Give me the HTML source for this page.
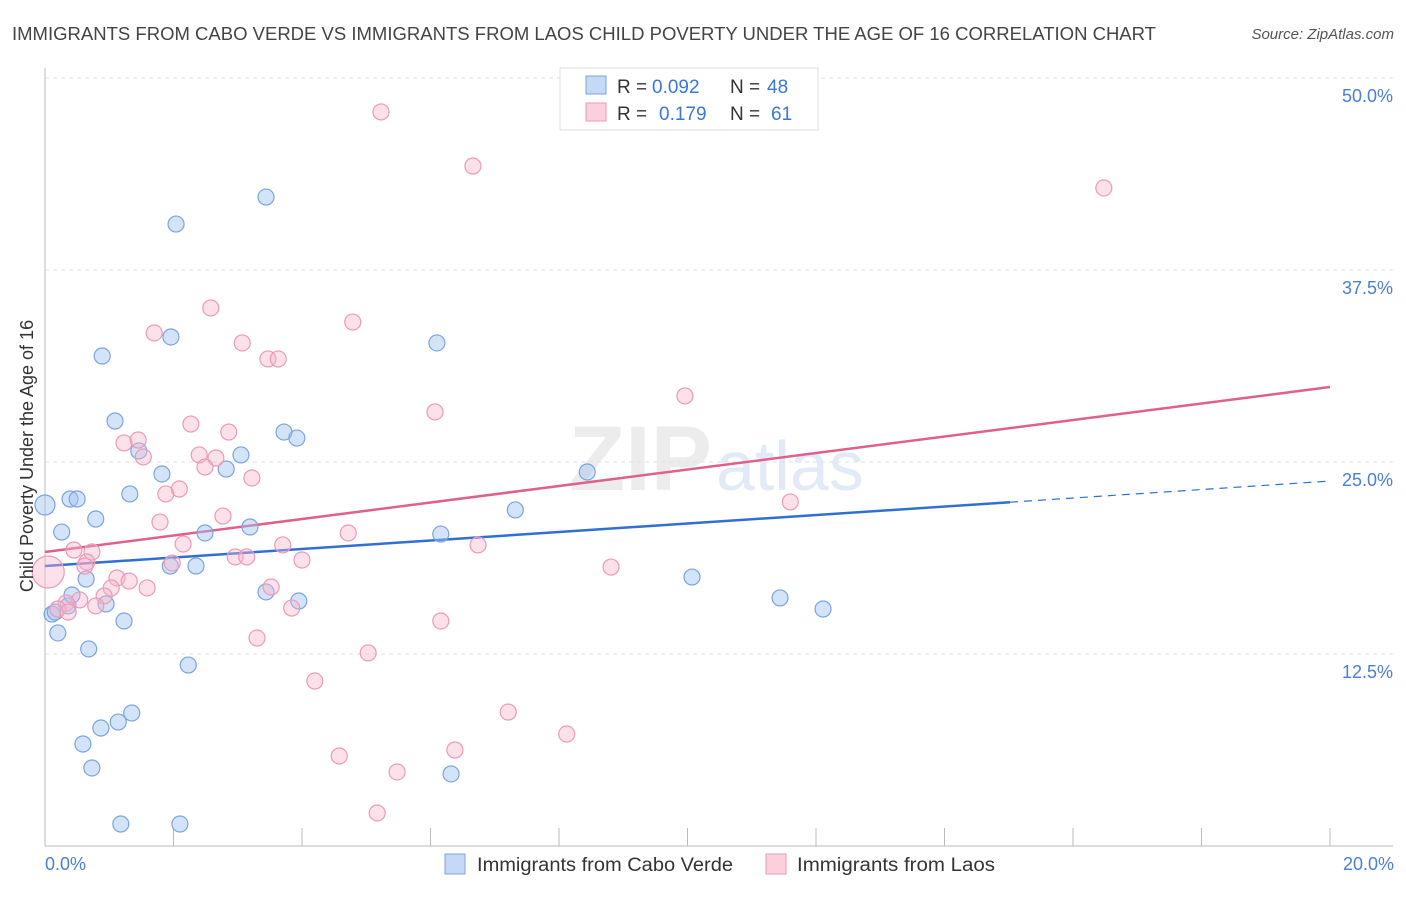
<!DOCTYPE html>
<html><head><meta charset="utf-8"><style>
body{margin:0;background:#fff;font-family:"Liberation Sans",sans-serif;}
svg text{font-family:"Liberation Sans",sans-serif;}
</style></head><body>
<svg id="chart" width="1406" height="892">
<text x="12" y="40" font-size="18" fill="#444" textLength="1144" lengthAdjust="spacingAndGlyphs">IMMIGRANTS FROM CABO VERDE VS IMMIGRANTS FROM LAOS CHILD POVERTY UNDER THE AGE OF 16 CORRELATION CHART</text>
<text x="1394" y="39" font-size="15" fill="#555" font-style="italic" text-anchor="end">Source: ZipAtlas.com</text>
<text x="712" y="490" font-size="92" font-weight="bold" fill="#ececec" text-anchor="end">ZIP</text>
<text x="716" y="490" font-size="70" fill="#e1eaf6">atlas</text>
<g id="grid"></g><g id="axes"></g><g id="lines"></g><g id="pts"></g>
<text transform="translate(33,456) rotate(-90)" font-size="18" fill="#333" text-anchor="middle">Child Poverty Under the Age of 16</text>
<text x="45" y="870" font-size="18" fill="#4a7fd4">0.0%</text>
<text x="1394" y="870" font-size="18" fill="#4a7fd4" text-anchor="end">20.0%</text>
<g>
<rect x="560" y="68" width="258" height="62" fill="#fff" stroke="#ddd"/>
<rect x="586" y="76" width="20" height="18" fill="#c5d9f5" stroke="#7aa4e0"/>
<rect x="586" y="103" width="20" height="18" fill="#fbcfdc" stroke="#ec9ab4"/>
<text x="617" y="93" font-size="19" fill="#333">R =</text>
<text x="652" y="93" font-size="19" fill="#3a78d8">0.092</text>
<text x="730" y="93" font-size="19" fill="#333">N =</text>
<text x="767" y="93" font-size="19" fill="#3a78d8">48</text>
<text x="617" y="120" font-size="19" fill="#333">R =</text>
<text x="659" y="120" font-size="19" fill="#3a78d8">0.179</text>
<text x="730" y="120" font-size="19" fill="#333">N =</text>
<text x="771" y="120" font-size="19" fill="#3a78d8">61</text>
</g>
<g>
<rect x="445" y="854" width="20" height="20" fill="#c5d9f5" stroke="#7aa4e0"/>
<text x="477" y="871" font-size="19" fill="#333" textLength="256" lengthAdjust="spacingAndGlyphs">Immigrants from Cabo Verde</text>
<rect x="766" y="854" width="20" height="20" fill="#fbcfdc" stroke="#ec9ab4"/>
<text x="797" y="871" font-size="19" fill="#333" textLength="198" lengthAdjust="spacingAndGlyphs">Immigrants from Laos</text>
</g>
</svg>
<script>
const yTicks=[12.5,25,37.5,50];
const yTickLabels=["12.5%","25.0%","37.5%","50.0%"];
const xTicks=[0,2,4,6,8,10,12,14,16,18,20];
const bluePx=[[45,505],[62,532],[70,499],[77,499],[96,519],[102,356],[115,421],[130,494],[139,451],[162,474],[170,566],[171,337],[176,224],[196,566],[205,533],[226,469],[241,455],[250,527],[266,197],[266,592],[284,432],[297,438],[299,601],[437,343],[441,534],[451,774],[515,510],[587,472],[692,577],[780,598],[823,609],[52,614],[58,633],[68,606],[72,595],[86,579],[89,649],[106,604],[124,621],[188,665],[132,713],[118,722],[101,728],[83,744],[92,768],[121,824],[180,824],[55,612]];
const pinkPx=[[48,572],[381,112],[473,166],[1104,188],[211,308],[154,333],[353,322],[242,343],[268,359],[278,359],[685,396],[435,412],[191,424],[124,443],[138,440],[143,457],[229,432],[199,455],[216,458],[205,467],[179,489],[166,494],[252,478],[160,522],[223,516],[790,502],[348,533],[74,550],[92,552],[183,544],[283,545],[478,545],[235,557],[247,557],[302,560],[611,567],[172,563],[87,562],[117,578],[129,581],[111,588],[147,588],[271,587],[104,596],[80,600],[66,603],[58,609],[68,612],[96,606],[292,608],[441,621],[257,638],[368,653],[315,681],[508,712],[567,734],[455,750],[339,756],[397,772],[377,813],[85,566]];
const blueX=bluePx.map(p=>+((p[0]-45)/64.25).toFixed(2));
const blueY=bluePx.map(p=>+((846-p[1])/15.36).toFixed(2));
const pinkX=pinkPx.map(p=>+((p[0]-45)/64.25).toFixed(2));
const pinkY=pinkPx.map(p=>+((846-p[1])/15.36).toFixed(2));
const blueTrend=[18.23,23.76];
const pinkTrend=[19.14,29.88];
const NS="http://www.w3.org/2000/svg";
const sx=v=>45+v*64.25, sy=v=>846-v*15.36;
function mk(parent,tag,attrs){const e=document.createElementNS(NS,tag);for(const k in attrs)e.setAttribute(k,attrs[k]);document.getElementById(parent).appendChild(e);return e;}
yTicks.forEach((t,i)=>{
 const g=mk('grid','line',{x1:45,x2:1393,y1:sy(t),y2:sy(t),stroke:'#e2e2e2','stroke-dasharray':'4,4'});
 
 
 const tx=mk('grid','text',{x:1393,y:sy(t)+24,'font-size':18,fill:'#4a7fd4','text-anchor':'end'});
 tx.textContent=yTickLabels[i];
 
 
});
const ax=mk('axes','line',{x1:45,x2:1393,y1:846,y2:846,stroke:'#bbb'});


const ay=mk('axes','line',{x1:45,x2:45,y1:68,y2:846,stroke:'#bbb'});


xTicks.forEach(t=>{
 const l=mk('axes','line',{x1:sx(t),x2:sx(t),y1:828,y2:846,stroke:'#bbb'});
 
 
});
const xe=(1010-45)/64.25;
const b1=mk('lines','line',{x1:sx(0),y1:sy(blueTrend[0]),x2:sx(xe),y2:sy(blueTrend[0]+(blueTrend[1]-blueTrend[0])*xe/20),stroke:'#2f6fd6','stroke-width':2.5});


const b2=mk('lines','line',{x1:sx(xe),y1:sy(blueTrend[0]+(blueTrend[1]-blueTrend[0])*xe/20),x2:sx(20),y2:sy(blueTrend[1]),stroke:'#2f6fd6','stroke-width':1.2,'stroke-dasharray':'8,6'});


const p1=mk('lines','line',{x1:sx(0),y1:sy(pinkTrend[0]),x2:sx(20),y2:sy(pinkTrend[1]),stroke:'#e0608c','stroke-width':2.5});


blueX.forEach((x,i)=>{
 const c=mk('pts','circle',{cx:sx(x),cy:sy(blueY[i]),r:i===0?10:8,fill:'rgba(160,195,240,0.45)',stroke:'#7aa4e0','stroke-width':1.2});
 
 
});
pinkX.forEach((x,i)=>{
 const c=mk('pts','circle',{cx:sx(x),cy:sy(pinkY[i]),r:i===0?16:8,fill:'rgba(248,180,202,0.4)',stroke:'#ec9ab4','stroke-width':1.2});
 
 
});
</script>
</body></html>
